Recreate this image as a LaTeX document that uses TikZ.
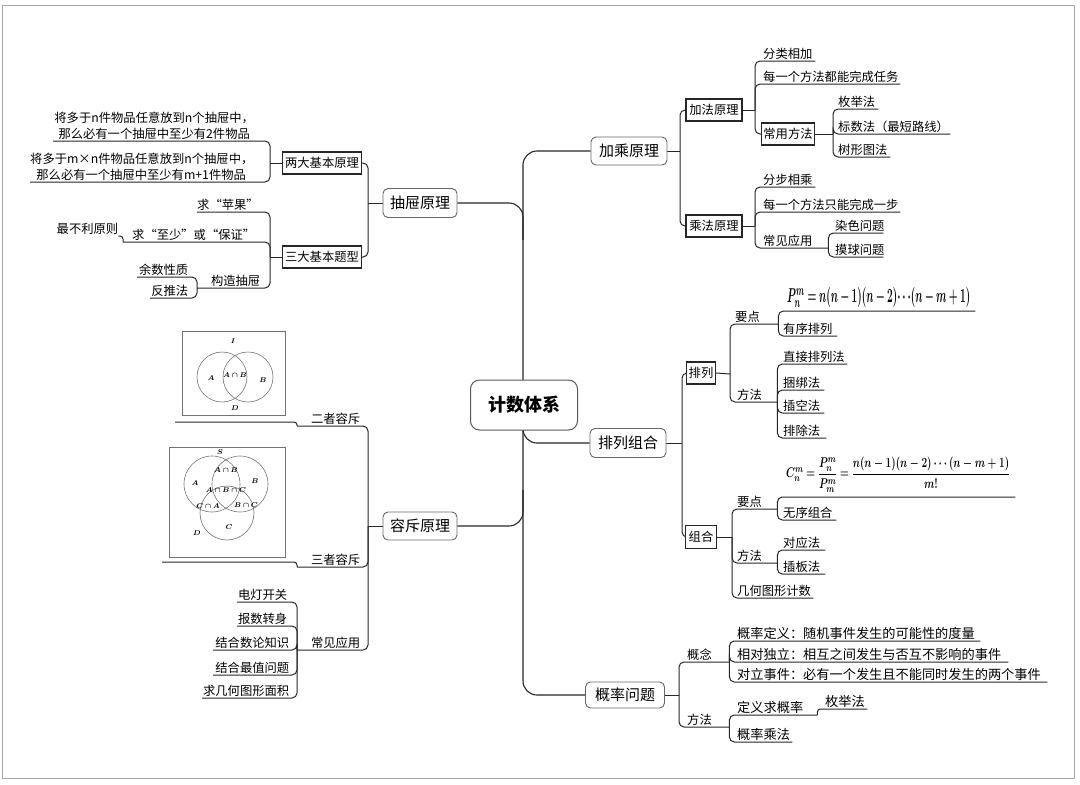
\documentclass[tikz,border=0pt]{standalone}
\usepackage{fontspec}
\usepackage{amsmath}
\usepackage{bm}
\usepackage{graphicx}
\setmainfont{Noto Sans CJK SC}
\usetikzlibrary{backgrounds}
\newcommand{\lfnt}{\fontsize{12.3}{15}\selectfont}
\newcommand{\gfnt}{\fontsize{13.2}{15}\selectfont}
\tikzset{
  conn/.style={draw=black!85, line width=1pt, rounded corners=5pt},
  trunk/.style={draw=black!85, line width=1.1pt, rounded corners=14pt},
  topbox/.style={draw=black!60, line width=0.9pt, rounded corners=5pt, fill=white, font=\fontsize{15}{15}\selectfont, inner sep=0pt},
  rootbox/.style={draw=black!65, line width=1pt, rounded corners=9pt, fill=white, font=\fontsize{18}{18}\selectfont\bfseries, minimum width=107pt, minimum height=50pt, inner sep=0pt},
  subbox/.style={draw=black!85, line width=1.3pt, fill=white, font=\lfnt, inner sep=0pt, minimum height=22pt},
  rleaf/.style={anchor=south west, inner xsep=0pt, inner ysep=1.5pt, text width=#1, align=left, font=\lfnt},
  lleaf/.style={anchor=south west, inner xsep=0pt, inner ysep=1.5pt, text width=#1, align=right, font=\lfnt},
  vline/.style={draw=black!55, line width=0.6pt},
  vlab/.style={font=\fontsize{7}{7}\selectfont, inner sep=0pt},
}
\begin{document}
\begin{tikzpicture}[x=1pt,y=-1pt]
\useasboundingbox (0,0) rectangle (1080,785);

% ---------- root and main topics
\node[rootbox] (root) at (524,405) {计数体系};
\node[topbox, minimum width=76pt, minimum height=28pt] (jc) at (629,151) {加乘原理};
\node[topbox, minimum width=74pt, minimum height=29pt] (ct) at (420,203) {抽屉原理};
\node[topbox, minimum width=76pt, minimum height=29pt] (plzh) at (628,443) {排列组合};
\node[topbox, minimum width=74pt, minimum height=28pt] (rc) at (420,526) {容斥原理};
\node[topbox, minimum width=79pt, minimum height=26pt] (gl) at (625,695) {概率问题};

% ---------- 加乘原理
\node[subbox, minimum width=56pt] (jf) at (714,110) {加法原理};
\node[subbox, minimum width=56pt] (cf) at (714,226) {乘法原理};
\node[subbox, minimum width=53pt] (cyff) at (788,134) {常用方法};
\coordinate (jc-s) at (680,151);
\coordinate (jf-s) at (755,110);
\coordinate (cy-s) at (833,134);
\coordinate (cf-s) at (755,226);
\node[rleaf=52pt] (flxj) at (763,61) {分类相加};
\node[rleaf=137pt] (mygf) at (763,84) {每一个方法都能完成任务};
\node[rleaf=40pt] (mjf1) at (838,109) {枚举法};
\node[rleaf=112pt] (bsf) at (838,134) {标数法（最短路线）};
\node[rleaf=52pt] (sxt) at (838,157) {树形图法};
\node[rleaf=52pt] (fbxc) at (763,187) {分步相乘};
\node[rleaf=137pt] (mygf2) at (763,212) {每一个方法只能完成一步};
\node[rleaf=65pt] (cjyy1) at (763,248) {常见应用};
\node[rleaf=48pt] (rswt) at (835,233) {染色问题};
\node[rleaf=48pt] (mqwt) at (835,257) {摸球问题};

% ---------- 抽屉原理
\node[subbox, minimum width=79pt] (ldjb) at (322,163) {两大基本原理};
\node[subbox, minimum width=79pt] (sdjb) at (322,257) {三大基本题型};
\coordinate (ct-s) at (368,203);
\coordinate (ld-s) at (270,163);
\coordinate (sd-s) at (270,257);
\node[lleaf=202pt, align=center, font=\fontsize{12.3}{16}\selectfont] (yl1) at (53,141) {将多于n件物品任意放到n个抽屉中，\\那么必有一个抽屉中至少有2件物品};
\node[lleaf=222pt, align=center, font=\fontsize{12.3}{16}\selectfont] (yl2) at (30,182) {将多于m×n件物品任意放到n个抽屉中，\\那么必有一个抽屉中至少有m+1件物品};
\node[lleaf=56pt] (qpg) at (197,212) {求“苹果”};
\node[lleaf=132pt] (qzs) at (123,242) {求“至少”或“保证”};
\node[lleaf=65pt] (zbl) at (53,236) {最不利原则};
\node[lleaf=63pt] (gzct) at (197,288) {构造抽屉};
\node[lleaf=51pt] (yszz) at (137,277) {余数性质};
\node[lleaf=38pt] (ftf) at (150,298) {反推法};

% ---------- 容斥原理
\coordinate (rc-s) at (368,526);
\node[lleaf=63pt] (ezrc) at (297,426) {二者容斥};
\node[lleaf=63pt] (szrc) at (297,567) {三者容斥};
\node[lleaf=63pt] (cjyy2) at (297,650) {常见应用};
\node[lleaf=50pt] (ddkg) at (237,602) {电灯开关};
\node[lleaf=50pt] (bszs) at (237,626) {报数转身};
\node[lleaf=76pt] (jhsl) at (213,650) {结合数论知识};
\node[lleaf=76pt] (jhzz) at (213,675) {结合最值问题};
\node[lleaf=87pt] (qjh) at (202,698) {求几何图形面积};
\coordinate (v1u) at (175,422);
\coordinate (v2u) at (162,562);

% Venn 1
\node[vline, minimum width=103pt, minimum height=84pt, inner sep=0pt] (venn1) at (233.5,373) {};
\draw[vline] (222,377) circle[radius=25pt];
\draw[vline] (248,377) circle[radius=25pt];
\node[vlab] at (233,341) {$\bm{I}$};
\node[vlab] at (211,378) {$\bm{A}$};
\node[vlab] at (235,375) {$\bm{A\cap B}$};
\node[vlab] at (263,380) {$\bm{B}$};
\node[vlab] at (235,408) {$\bm{D}$};

% Venn 2
\node[vline, minimum width=116pt, minimum height=110pt, inner sep=0pt] (venn2) at (227,502) {};
\draw[vline] (212,484) circle[radius=28pt];
\draw[vline] (240,484) circle[radius=28pt];
\draw[vline] (227,513) circle[radius=27pt];
\node[vlab] at (220,452) {$\bm{S}$};
\node[vlab] at (195,483) {$\bm{A}$};
\node[vlab] at (226,470) {$\bm{A\cap B}$};
\node[vlab] at (255,481) {$\bm{B}$};
\node[vlab] at (226,490) {$\bm{A\cap B\cap C}$};
\node[vlab] at (208,506) {$\bm{C\cap A}$};
\node[vlab] at (246,505) {$\bm{B\cap C}$};
\node[vlab] at (229,527) {$\bm{C}$};
\node[vlab] at (197,533) {$\bm{D}$};

% ---------- 排列组合
\node[subbox, minimum width=29pt] (pl) at (701,373) {排列};
\node[subbox, minimum width=31pt, minimum height=23pt] (zh) at (701,537) {组合};
\coordinate (pz-s) at (682,443);
\coordinate (pl-s) at (730,374);
\coordinate (zh-s) at (732,537);
\node[rleaf=43pt] (yd1) at (735,324) {要点};
\node[rleaf=40pt] (ff1) at (737,402) {方法};
\node[rleaf=188pt, inner ysep=3pt] (pf) at (787,311) {\resizebox*{183pt}{20pt}{$\bm{P_n^m=n(n-1)(n-2)\cdots(n-m+1)}$}};
\node[rleaf=54pt] (yxpl) at (783,336) {有序排列};
\node[rleaf=64pt] (zjplf) at (783,364) {直接排列法};
\node[rleaf=41pt] (kbf) at (783,390) {捆绑法};
\node[rleaf=41pt] (ckf) at (783,413) {插空法};
\node[rleaf=43pt] (pcf) at (783,438) {排除法};
\node[rleaf=40pt] (yd2) at (737,509) {要点};
\node[rleaf=40pt] (ff2) at (737,563) {方法};
\node[rleaf=76pt] (jhtx) at (737,598) {几何图形计数};
\node[rleaf=229pt, inner ysep=4pt] (cfm) at (786,497) {\resizebox*{224pt}{36pt}{$\bm{C_n^m=\dfrac{P_n^m}{P_m^m}=\dfrac{n(n-1)(n-2)\cdots(n-m+1)}{m!}}$}};
\node[rleaf=53pt] (wxzh) at (783,520) {无序组合};
\node[rleaf=42pt] (dyf) at (783,550) {对应法};
\node[rleaf=42pt] (cbf) at (783,574) {插板法};

% ---------- 概率问题
\coordinate (gl-s) at (679,695);
\node[rleaf=42pt] (gn) at (687,662) {概念};
\node[rleaf=42pt] (ff3) at (687,727) {方法};
\node[rleaf=243pt, font=\gfnt] (gldy) at (737,641) {概率定义：随机事件发生的可能性的度量};
\node[rleaf=271pt, font=\gfnt] (xddl) at (737,662) {相对独立：相互之间发生与否互不影响的事件};
\node[rleaf=310pt, font=\gfnt] (dlsj) at (737,682) {对立事件：必有一个发生且不能同时发生的两个事件};
\node[rleaf=80pt, font=\gfnt] (dyqgl) at (737,715) {定义求概率};
\node[rleaf=42pt, font=\gfnt] (mjf3) at (825,709) {枚举法};
\node[rleaf=55pt, font=\gfnt] (glcf) at (737,742) {概率乘法};

% ---------- connectors
\begin{scope}[on background layer]
\draw[black!35, line width=0.8pt] (2,5) rectangle (1074,778);
\draw[trunk] (jc.west) -- (523,151) -- (523,695) -- (gl.west);
\draw[trunk] (ct.east) -- (523,203) -- (523,240);
\draw[trunk] (523,415) -- (523,443) -- (plzh.west);
\draw[trunk] (rc.east) -- (523,526) -- (523,490);

% 加乘
\draw[conn] (jc.east) -- (jc-s);
\draw[conn] (jc-s) |- (jf.west);
\draw[conn] (jc-s) |- (cf.west);
\draw[conn] (jf.east) -- (jf-s);
\draw[conn] (jf-s) |- (flxj.south east);
\draw[conn] (jf-s) |- (mygf.south east);
\draw[conn] (jf-s) |- (cyff.west);
\draw[conn] (cyff.east) -- (cy-s);
\draw[conn] (cy-s) |- (mjf1.south east);
\draw[conn] (cy-s) |- (bsf.south east);
\draw[conn] (cy-s) |- (sxt.south east);
\draw[conn] (cf.east) -- (cf-s);
\draw[conn] (cf-s) |- (fbxc.south east);
\draw[conn] (cf-s) |- (mygf2.south east);
\draw[conn] (cf-s) |- (cjyy1.south east);
\draw[conn] (cjyy1.south east) |- (rswt.south east);
\draw[conn] (cjyy1.south east) |- (mqwt.south east);

% 抽屉
\draw[conn] (ct.west) -- (ct-s);
\draw[conn] (ct-s) |- (ldjb.east);
\draw[conn] (ct-s) |- (sdjb.east);
\draw[conn] (ldjb.west) -- (ld-s);
\draw[conn] (ld-s) |- (yl1.south west);
\draw[conn] (ld-s) |- (yl2.south west);
\draw[conn] (sdjb.west) -- (sd-s);
\draw[conn] (sd-s) |- (qpg.south west);
\draw[conn] (sd-s) |- (qzs.south west);
\draw[conn] (sd-s) |- (gzct.south west);
\draw[conn, rounded corners=3pt] (qzs.south west) |- (zbl.south east);
\draw[conn] (gzct.south west) |- (yszz.south west);
\draw[conn] (gzct.south west) |- (ftf.south west);

% 容斥
\draw[conn] (rc.west) -- (rc-s);
\draw[conn] (rc-s) |- (ezrc.south west);
\draw[conn] (rc-s) |- (szrc.south west);
\draw[conn] (rc-s) |- (cjyy2.south west);
\draw[conn, rounded corners=3pt] (ezrc.south west) |- (v1u);
\draw[conn, rounded corners=3pt] (szrc.south west) |- (v2u);
\draw[conn] (cjyy2.south west) |- (ddkg.south west);
\draw[conn] (cjyy2.south west) |- (bszs.south west);
\draw[conn] (cjyy2.south west) |- (jhsl.south west);
\draw[conn] (cjyy2.south west) |- (jhzz.south west);
\draw[conn] (cjyy2.south west) |- (qjh.south west);

% 排列组合
\draw[conn] (plzh.east) -- (pz-s);
\draw[conn] (pz-s) |- (pl.west);
\draw[conn] (pz-s) |- (zh.west);
\draw[conn] (pl.east) -- (pl-s);
\draw[conn] (pl-s) |- (yd1.south east);
\draw[conn] (pl-s) |- (ff1.south east);
\draw[conn] (yd1.south east) |- (pf.south east);
\draw[conn] (yd1.south east) |- (yxpl.south east);
\draw[conn] (ff1.south east) |- (zjplf.south east);
\draw[conn] (ff1.south east) |- (kbf.south east);
\draw[conn] (ff1.south east) |- (ckf.south east);
\draw[conn] (ff1.south east) |- (pcf.south east);
\draw[conn] (zh.east) -- (zh-s);
\draw[conn] (zh-s) |- (yd2.south east);
\draw[conn] (zh-s) |- (ff2.south east);
\draw[conn] (zh-s) |- (jhtx.south east);
\draw[conn] (yd2.south east) |- (cfm.south east);
\draw[conn] (yd2.south east) |- (wxzh.south east);
\draw[conn] (ff2.south east) |- (dyf.south east);
\draw[conn] (ff2.south east) |- (cbf.south east);

% 概率
\draw[conn] (gl.east) -- (gl-s);
\draw[conn] (gl-s) |- (gn.south east);
\draw[conn] (gl-s) |- (ff3.south east);
\draw[conn] (gn.south east) |- (gldy.south east);
\draw[conn] (gn.south east) |- (xddl.south east);
\draw[conn] (gn.south east) |- (dlsj.south east);
\draw[conn] (ff3.south east) |- (dyqgl.south east);
\draw[conn] (ff3.south east) |- (glcf.south east);
\draw[conn, rounded corners=3pt] (dyqgl.south east) |- (mjf3.south east);
\end{scope}
\end{tikzpicture}
\end{document}
